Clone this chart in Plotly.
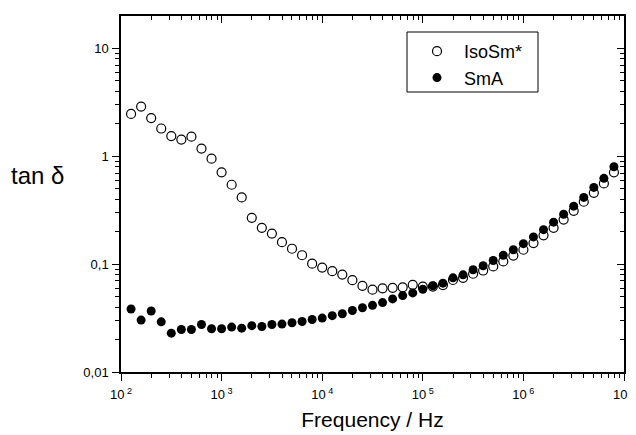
import plotly.graph_objects as go

# log10 frequency steps (0.1 decade) -> Hz
log_freq = [2.1 + 0.1 * i for i in range(49)]
freq = [10 ** v for v in log_freq]

iso_sm = [2.47, 2.89, 2.26, 1.81, 1.54, 1.43, 1.52, 1.18, 0.95, 0.71,
          0.545, 0.416, 0.269, 0.217, 0.192, 0.160, 0.139, 0.121, 0.101, 0.093,
          0.086, 0.080, 0.071, 0.063, 0.058, 0.0597, 0.0603, 0.061, 0.0643, 0.062,
          0.062, 0.064, 0.0713, 0.0747, 0.0815, 0.0873, 0.0952, 0.106, 0.120, 0.136,
          0.157, 0.185, 0.217, 0.259, 0.312, 0.379, 0.459, 0.561, 0.711]

sma = [0.0384, 0.0303, 0.0368, 0.0292, 0.0229, 0.0248, 0.0248, 0.0276, 0.0252, 0.0252,
       0.0261, 0.0255, 0.0269, 0.0264, 0.0276, 0.0278, 0.0286, 0.0294, 0.0307, 0.0316,
       0.0333, 0.0347, 0.0372, 0.0394, 0.0415, 0.0440, 0.0476, 0.0511, 0.0541, 0.0585,
       0.0630, 0.0666, 0.0747, 0.0796, 0.0887, 0.0966, 0.108, 0.121, 0.136, 0.155,
       0.179, 0.209, 0.245, 0.290, 0.345, 0.416, 0.515, 0.625, 0.80]

x_tickvals = [1e2, 1e3, 1e4, 1e5, 1e6, 1e7]
x_ticktext = ["10<sup> 2</sup>", "10<sup> 3</sup>", "10<sup> 4</sup>",
              "10<sup> 5</sup>", "10<sup> 6</sup>", "10<sup> 7</sup>"]
y_tickvals = [0.01, 0.1, 1, 10]
y_ticktext = ["0,01", "0,1", "1", "10"]

x_minor = [m * 10 ** d for d in range(2, 7) for m in range(2, 10)]
y_minor = [m * 10 ** d for d in range(-2, 2) for m in range(2, 10) if m * 10 ** d < 20]

FONT = "Liberation Sans, Arial, sans-serif"

# plot area in screen pixels (page body adds an 8 px offset)
OFF = 8
L, R, T, B = 121, 624, 16, 372
W, H = R - L, B - T


def px_x(p):
    return (p - L) / W


def px_y(p):
    return (B - p) / H


fig = go.Figure()
fig.add_trace(go.Scatter(
    x=freq, y=iso_sm, mode="markers", name="IsoSm*",
    marker=dict(symbol="circle-open", size=9, color="black", line=dict(width=1.2))))
fig.add_trace(go.Scatter(
    x=freq, y=sma, mode="markers", name="SmA",
    marker=dict(symbol="circle", size=9, color="black")))
# invisible trace to anchor the mirrored axes
fig.add_trace(go.Scatter(x=[freq[0]], y=[sma[0]], xaxis="x2", yaxis="y2",
                         mode="markers", marker=dict(opacity=0), showlegend=False,
                         hoverinfo="skip"))

axis_common = dict(type="log", showgrid=False, zeroline=False, showline=True,
                   linecolor="black", linewidth=1.5, tickcolor="black", tickwidth=1.2,
                   automargin=False)

fig.update_layout(
    width=636, height=435,
    margin=dict(l=L - OFF, r=636 - R + OFF, t=T - OFF, b=435 - B + OFF),
    paper_bgcolor="white", plot_bgcolor="white",
    font=dict(family=FONT, color="black"),
    showlegend=True,
    legend=dict(x=px_x(410), y=px_y(33), xanchor="left", yanchor="top",
                borderwidth=0, bgcolor="rgba(0,0,0,0)",
                font=dict(size=18, family=FONT), itemsizing="trace", itemwidth=44),
    xaxis=dict(axis_common, range=[2, 7], tickvals=x_tickvals, ticktext=x_ticktext,
               ticks="outside", ticklen=7, tickfont=dict(size=13), ticklabelstandoff=3,
               minor=dict(tickvals=x_minor, ticks="outside", ticklen=4,
                          tickcolor="black", tickwidth=1.2),
               title=dict(text="Frequency / Hz", font=dict(size=21), standoff=11)),
    yaxis=dict(axis_common, range=[-2, 1.301], tickvals=y_tickvals, ticktext=y_ticktext,
               ticks="outside", ticklen=7, tickfont=dict(size=13), ticklabelstandoff=1,
               minor=dict(tickvals=y_minor, ticks="outside", ticklen=4,
                          tickcolor="black", tickwidth=1.2)),
    xaxis2=dict(axis_common, range=[2, 7], overlaying="x", side="top", anchor="y",
                tickvals=x_tickvals, ticks="inside", ticklen=7, showticklabels=False,
                minor=dict(tickvals=x_minor, ticks="inside", ticklen=4,
                           tickcolor="black", tickwidth=1.2)),
    yaxis2=dict(axis_common, range=[-2, 1.301], overlaying="y", side="right", anchor="x",
                tickvals=y_tickvals, ticks="inside", ticklen=7, showticklabels=False,
                minor=dict(tickvals=y_minor, ticks="inside", ticklen=4,
                           tickcolor="black", tickwidth=1.2)),
    shapes=[dict(type="rect", xref="paper", yref="paper",
                 x0=px_x(407), x1=px_x(538), y0=px_y(92), y1=px_y(32),
                 line=dict(color="black", width=1), fillcolor="rgba(0,0,0,0)")],
    annotations=[dict(text="tan δ", xref="paper", yref="paper",
                      x=px_x(37.5), y=px_y(175),
                      xanchor="center", yanchor="middle", showarrow=False,
                      font=dict(size=24, family=FONT))],
)

fig.write_html("out.html")
